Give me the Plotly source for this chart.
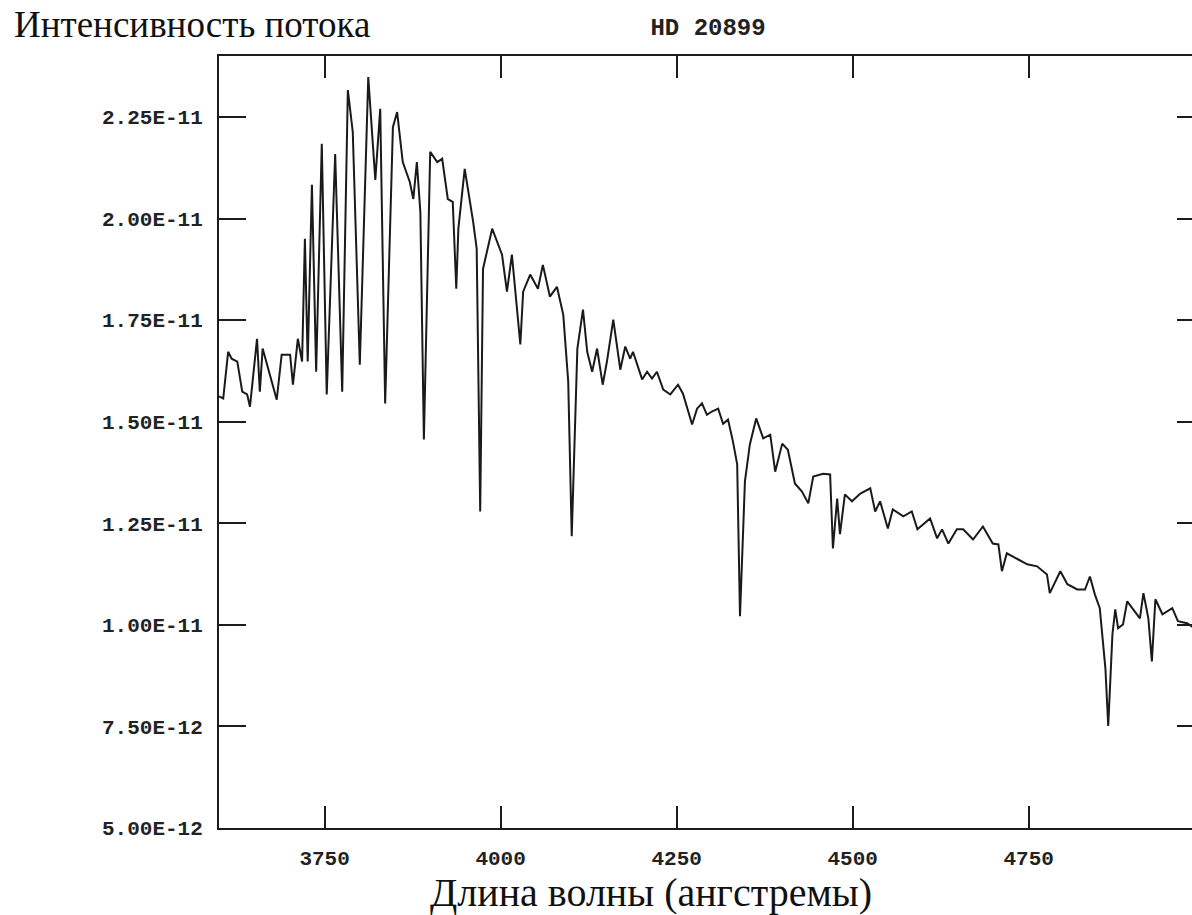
import plotly.graph_objects as go

# Wavelength (Angstrom) and flux (units of 1e-11)
wavelength = [3600, 3606, 3613, 3618, 3626, 3633, 3640, 3644, 3654, 3658, 3662, 3672, 3682, 3689, 3701, 3705,
              3712, 3718, 3722, 3726, 3732, 3738, 3746, 3753, 3765, 3775, 3783, 3790, 3800, 3812, 3822, 3829,
              3836, 3847, 3853, 3861, 3871, 3876, 3881, 3886, 3891, 3900, 3910, 3917, 3925, 3932, 3937, 3940,
              3949, 3961, 3966, 3971, 3975, 3988, 4002, 4009, 4016, 4028, 4032, 4042, 4053, 4060, 4070, 4080,
              4089, 4096, 4101, 4109, 4117, 4123, 4130, 4137, 4145, 4151, 4160, 4170, 4177, 4184, 4188, 4201,
              4208, 4215, 4222, 4231, 4241, 4252, 4259, 4272, 4279, 4286, 4293, 4300, 4309, 4316, 4323, 4330,
              4336, 4340, 4347, 4354, 4363, 4373, 4383, 4390, 4400, 4408, 4418, 4428, 4437, 4444, 4458, 4468,
              4472, 4478, 4482, 4489, 4499, 4511, 4525, 4532, 4539, 4550, 4557, 4572, 4584, 4592, 4600, 4610,
              4620, 4627, 4636, 4648, 4657, 4671, 4685, 4699, 4707, 4712, 4719, 4734, 4748, 4762, 4776, 4780,
              4788, 4795, 4805, 4819, 4830, 4837, 4844, 4851, 4859, 4863, 4869, 4873, 4877, 4884, 4890, 4898,
              4908, 4913, 4920, 4925, 4930, 4940, 4954, 4962, 4975, 4982, 4995]
flux_e11 = [1.562, 1.557, 1.672, 1.655, 1.648, 1.574, 1.567, 1.537, 1.704, 1.574, 1.680, 1.616, 1.554, 1.665, 1.665, 1.591,
            1.704, 1.648, 1.950, 1.648, 2.083, 1.623, 2.184, 1.567, 2.159, 1.574, 2.316, 2.213, 1.640, 2.348, 2.095, 2.270,
            1.545, 2.225, 2.262, 2.139, 2.090, 2.048, 2.139, 2.016, 1.456, 2.164, 2.139, 2.147, 2.048, 2.041, 1.827, 1.975,
            2.122, 1.992, 1.926, 1.279, 1.876, 1.975, 1.911, 1.820, 1.911, 1.690, 1.820, 1.862, 1.827, 1.886, 1.808, 1.832,
            1.763, 1.599, 1.218, 1.680, 1.776, 1.672, 1.623, 1.680, 1.591, 1.648, 1.751, 1.628, 1.685, 1.655, 1.672, 1.604,
            1.623, 1.606, 1.623, 1.579, 1.567, 1.591, 1.569, 1.493, 1.532, 1.545, 1.517, 1.525, 1.532, 1.495, 1.505, 1.451,
            1.395, 1.021, 1.353, 1.444, 1.508, 1.459, 1.468, 1.377, 1.446, 1.431, 1.348, 1.328, 1.299, 1.365, 1.372, 1.370,
            1.188, 1.311, 1.223, 1.321, 1.304, 1.323, 1.336, 1.279, 1.304, 1.237, 1.284, 1.267, 1.279, 1.235, 1.247, 1.262,
            1.213, 1.235, 1.200, 1.235, 1.235, 1.210, 1.242, 1.200, 1.198, 1.132, 1.176, 1.161, 1.149, 1.144, 1.124, 1.078,
            1.107, 1.132, 1.100, 1.087, 1.087, 1.119, 1.075, 1.041, 0.893, 0.751, 0.977, 1.038, 0.992, 1.001, 1.058, 1.038,
            1.016, 1.078, 1.016, 0.910, 1.063, 1.026, 1.041, 1.009, 1.004, 0.996, 0.990]

x_tickvals = [3750, 4000, 4250, 4500, 4750]
y_tickvals = [5.0e-12, 7.5e-12, 1.0e-11, 1.25e-11, 1.5e-11, 1.75e-11, 2.0e-11, 2.25e-11]
y_ticktext = ["5.00E-12", "7.50E-12", "1.00E-11", "1.25E-11", "1.50E-11", "1.75E-11", "2.00E-11", "2.25E-11"]

flux = [v * 1e-11 for v in flux_e11]

INK = "#1c1c1c"
tick_font = dict(family="Liberation Mono", size=21, color="#222222")

fig = go.Figure()
fig.add_trace(go.Scatter(x=wavelength, y=flux, mode="lines",
                         line=dict(color="#1a1a1a", width=2), hoverinfo="skip", showlegend=False))
fig.add_trace(go.Scatter(x=wavelength, y=flux, mode="lines", yaxis="y2",
                         line=dict(color="rgba(0,0,0,0)", width=0), hoverinfo="skip", showlegend=False))

fig.update_layout(
    width=1192, height=915,
    margin=dict(l=219, r=0, t=56, b=87),
    paper_bgcolor="white", plot_bgcolor="white",
    title=dict(text="<b>HD 20899</b>", x=0.594, xanchor="center", y=0.9705, yanchor="middle",
               font=dict(family="Liberation Mono", size=24, color="#222222")),
    xaxis=dict(range=[3600, 4982], tickmode="array", tickvals=x_tickvals,
               ticktext=[f"<b>{v}</b>" for v in x_tickvals],
               ticks="inside", ticklen=22, tickwidth=2, tickcolor=INK,
               showline=True, linewidth=2, linecolor=INK, mirror="ticks",
               showgrid=False, zeroline=False, tickfont=tick_font, ticklabelstandoff=10),
    yaxis=dict(range=[5.0e-12, 2.4e-11], tickmode="array", tickvals=y_tickvals,
               ticktext=[f"<b>{t}</b>" for t in y_ticktext],
               ticks="inside", ticklen=27, tickwidth=2, tickcolor=INK,
               showline=True, linewidth=2, linecolor=INK, mirror=False,
               showgrid=False, zeroline=False, tickfont=tick_font, ticklabelstandoff=10),
    yaxis2=dict(range=[5.0e-12, 2.4e-11], overlaying="y", side="right", tickmode="array",
                tickvals=y_tickvals, showticklabels=False, ticks="inside", ticklen=15,
                tickwidth=2, tickcolor=INK, showline=False, showgrid=False, zeroline=False),
    annotations=[
        dict(text="Интенсивность потока", xref="paper", yref="paper", x=-0.2127, y=1.0414,
             xanchor="left", yanchor="middle", showarrow=False,
             font=dict(family="Liberation Serif", size=37, color="#111111")),
        dict(text="Длина волны (ангстремы)", xref="paper", yref="paper", x=0.444, y=-0.083,
             xanchor="center", yanchor="middle", showarrow=False,
             font=dict(family="Liberation Serif", size=40, color="#111111")),
    ],
)

fig.write_html("out.html")
